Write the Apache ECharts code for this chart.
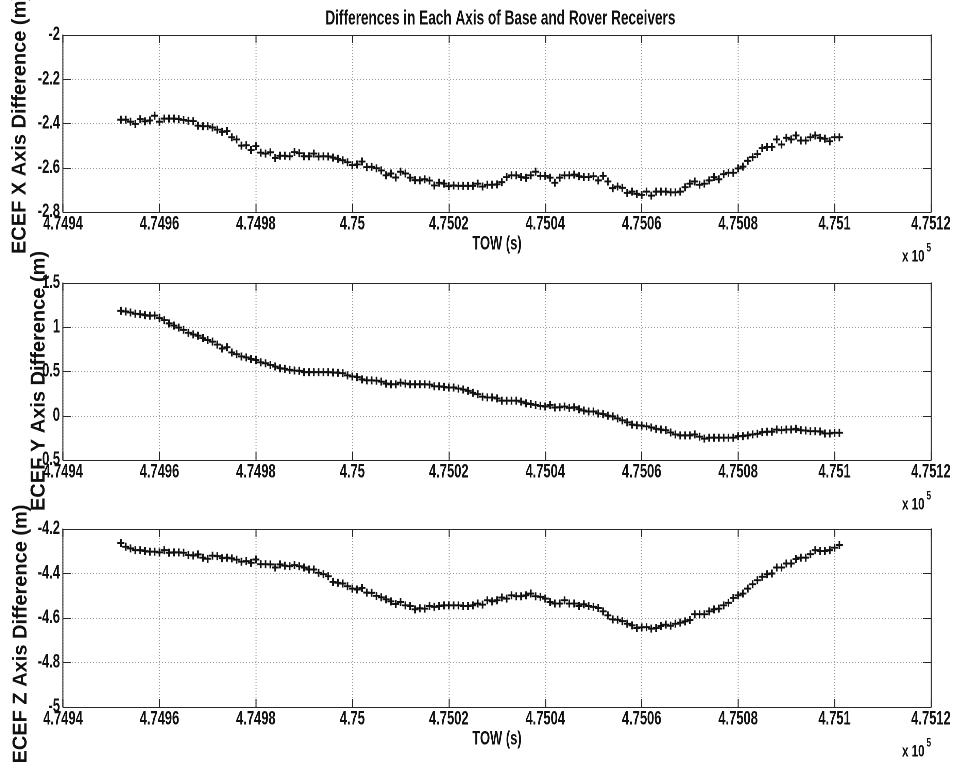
<!DOCTYPE html>
<html>
<head>
<meta charset="utf-8">
<script src="https://cdn.jsdelivr.net/npm/echarts@6/dist/echarts.min.js"></script>
<style>
  html, body { margin: 0; padding: 0; background: #ffffff; overflow: hidden; }
  #wrap { width: 957px; height: 762px; overflow: hidden; position: relative; }
  /* the figure uses a condensed typeface: the plot is laid out wide and narrowed horizontally */
  #chart { height: 762px; transform-origin: 0 0; position: absolute; left: 0; top: 0; }
</style>
</head>
<body>
<div id="wrap"><div id="chart"></div></div>
<script>
// GPS time of week (s), one sample per second
const towSeconds = [
  474952, 474953, 474954, 474955, 474956, 474957, 474958, 474959, 474960, 474961,
  474962, 474963, 474964, 474965, 474966, 474967, 474968, 474969, 474970, 474971,
  474972, 474973, 474974, 474975, 474976, 474977, 474978, 474979, 474980, 474981,
  474982, 474983, 474984, 474985, 474986, 474987, 474988, 474989, 474990, 474991,
  474992, 474993, 474994, 474995, 474996, 474997, 474998, 474999, 475000, 475001,
  475002, 475003, 475004, 475005, 475006, 475007, 475008, 475009, 475010, 475011,
  475012, 475013, 475014, 475015, 475016, 475017, 475018, 475019, 475020, 475021,
  475022, 475023, 475024, 475025, 475026, 475027, 475028, 475029, 475030, 475031,
  475032, 475033, 475034, 475035, 475036, 475037, 475038, 475039, 475040, 475041,
  475042, 475043, 475044, 475045, 475046, 475047, 475048, 475049, 475050, 475051,
  475052, 475053, 475054, 475055, 475056, 475057, 475058, 475059, 475060, 475061,
  475062, 475063, 475064, 475065, 475066, 475067, 475068, 475069, 475070, 475071,
  475072, 475073, 475074, 475075, 475076, 475077, 475078, 475079, 475080, 475081,
  475082, 475083, 475084, 475085, 475086, 475087, 475088, 475089, 475090, 475091,
  475092, 475093, 475094, 475095, 475096, 475097, 475098, 475099, 475100, 475101
];

// Base minus rover, ECEF X (m)
const ecefXDiff = [
  -2.383, -2.383, -2.392, -2.402, -2.380, -2.390, -2.386, -2.365, -2.392, -2.378,
  -2.378, -2.378, -2.380, -2.384, -2.388, -2.389, -2.410, -2.412, -2.412, -2.418,
  -2.428, -2.438, -2.434, -2.462, -2.472, -2.500, -2.498, -2.520, -2.502, -2.532,
  -2.536, -2.530, -2.556, -2.546, -2.546, -2.548, -2.529, -2.534, -2.548, -2.548,
  -2.536, -2.549, -2.548, -2.549, -2.554, -2.560, -2.566, -2.575, -2.588, -2.585,
  -2.572, -2.597, -2.596, -2.602, -2.612, -2.634, -2.626, -2.644, -2.618, -2.626,
  -2.645, -2.656, -2.657, -2.652, -2.658, -2.680, -2.668, -2.672, -2.683, -2.680,
  -2.682, -2.682, -2.682, -2.682, -2.672, -2.685, -2.677, -2.677, -2.675, -2.665,
  -2.642, -2.634, -2.634, -2.642, -2.646, -2.634, -2.618, -2.637, -2.637, -2.645,
  -2.668, -2.645, -2.634, -2.634, -2.631, -2.638, -2.642, -2.642, -2.638, -2.657,
  -2.637, -2.662, -2.692, -2.685, -2.691, -2.714, -2.708, -2.718, -2.723, -2.708,
  -2.726, -2.708, -2.708, -2.708, -2.711, -2.711, -2.708, -2.688, -2.672, -2.662,
  -2.677, -2.672, -2.657, -2.642, -2.652, -2.629, -2.623, -2.623, -2.603, -2.595,
  -2.569, -2.552, -2.538, -2.511, -2.506, -2.506, -2.472, -2.495, -2.465, -2.472,
  -2.454, -2.477, -2.477, -2.462, -2.454, -2.465, -2.469, -2.480, -2.462, -2.462
];

// Base minus rover, ECEF Y (m)
const ecefYDiff = [
  1.185, 1.178, 1.167, 1.152, 1.148, 1.137, 1.130, 1.133, 1.104, 1.081,
  1.044, 1.019, 0.996, 0.970, 0.937, 0.919, 0.904, 0.878, 0.856, 0.837,
  0.804, 0.760, 0.775, 0.715, 0.696, 0.670, 0.659, 0.641, 0.630, 0.604,
  0.593, 0.574, 0.556, 0.537, 0.530, 0.519, 0.511, 0.507, 0.493, 0.493,
  0.493, 0.493, 0.493, 0.493, 0.489, 0.485, 0.481, 0.456, 0.444, 0.437,
  0.411, 0.400, 0.400, 0.396, 0.385, 0.363, 0.356, 0.356, 0.374, 0.363,
  0.356, 0.356, 0.356, 0.356, 0.352, 0.333, 0.333, 0.326, 0.319, 0.319,
  0.307, 0.296, 0.281, 0.259, 0.244, 0.215, 0.207, 0.207, 0.196, 0.170,
  0.170, 0.170, 0.170, 0.159, 0.141, 0.133, 0.122, 0.111, 0.104, 0.122,
  0.093, 0.096, 0.104, 0.089, 0.096, 0.074, 0.059, 0.048, 0.048, 0.026,
  0.019, 0.000, -0.007, -0.030, -0.052, -0.074, -0.100, -0.107, -0.111, -0.119,
  -0.133, -0.148, -0.156, -0.163, -0.189, -0.211, -0.222, -0.222, -0.222, -0.211,
  -0.237, -0.259, -0.248, -0.248, -0.248, -0.248, -0.248, -0.248, -0.230, -0.230,
  -0.222, -0.211, -0.204, -0.185, -0.181, -0.181, -0.156, -0.163, -0.156, -0.156,
  -0.148, -0.163, -0.167, -0.174, -0.174, -0.178, -0.200, -0.200, -0.193, -0.193
];

// Base minus rover, ECEF Z (m)
const ecefZDiff = [
  -4.263, -4.280, -4.287, -4.295, -4.295, -4.299, -4.302, -4.302, -4.305, -4.295,
  -4.307, -4.305, -4.305, -4.307, -4.317, -4.319, -4.314, -4.329, -4.334, -4.320,
  -4.322, -4.331, -4.329, -4.332, -4.338, -4.347, -4.344, -4.352, -4.337, -4.358,
  -4.358, -4.359, -4.373, -4.359, -4.365, -4.367, -4.362, -4.367, -4.373, -4.382,
  -4.382, -4.397, -4.403, -4.412, -4.438, -4.442, -4.445, -4.457, -4.468, -4.472,
  -4.465, -4.486, -4.487, -4.501, -4.507, -4.516, -4.525, -4.537, -4.528, -4.543,
  -4.546, -4.561, -4.556, -4.558, -4.546, -4.550, -4.546, -4.543, -4.543, -4.543,
  -4.543, -4.546, -4.546, -4.543, -4.535, -4.540, -4.520, -4.525, -4.520, -4.508,
  -4.513, -4.498, -4.502, -4.502, -4.498, -4.490, -4.502, -4.505, -4.513, -4.528,
  -4.535, -4.535, -4.520, -4.535, -4.535, -4.546, -4.538, -4.546, -4.550, -4.555,
  -4.570, -4.588, -4.606, -4.608, -4.614, -4.626, -4.633, -4.645, -4.642, -4.641,
  -4.648, -4.645, -4.636, -4.630, -4.635, -4.626, -4.621, -4.615, -4.609, -4.583,
  -4.583, -4.583, -4.570, -4.561, -4.558, -4.543, -4.532, -4.510, -4.498, -4.490,
  -4.468, -4.448, -4.430, -4.415, -4.403, -4.400, -4.373, -4.373, -4.355, -4.355,
  -4.335, -4.329, -4.329, -4.313, -4.295, -4.299, -4.299, -4.295, -4.284, -4.272
];

// Axis ranges: [min, max, step]
const towRange = [474940, 475120, 20];
const yRangeX = [-2.8, -2.0, 0.2];
const yRangeY = [-0.5, 1.5, 0.5];
const yRangeZ = [-5.0, -4.2, 0.2];

const chartTitle = 'Differences in Each Axis of Base and Rover Receivers';
const yTitles = ['ECEF X Axis Difference (m)', 'ECEF Y Axis Difference (m)', 'ECEF Z Axis Difference (m)'];
const xTitle = 'TOW (s)';

// horizontal condensing factor of the figure
const SQUEEZE = 0.68;
const sx = v => v / SQUEEZE;   // screen x -> layout x

const FONT = "'Liberation Sans', Arial, sans-serif";
const INK = '#111111';
const FRAME = '#262626';
const GRIDC = '#9a9a9a';

// one subplot per ECEF component
const panels = [
  { values: ecefXDiff, range: yRangeX, label: yTitles[0], top: 35, height: 177, towName: true, labelX: 20, labelY: 124 },
  { values: ecefYDiff, range: yRangeY, label: yTitles[1], top: 283, height: 177, towName: false, labelX: 39, labelY: 381 },
  { values: ecefZDiff, range: yRangeZ, label: yTitles[2], top: 529, height: 178, towName: true, labelX: 21, labelY: 634 }
];

const PLOT_LEFT = 63;
const PLOT_WIDTH = 868;
const plusMarker = 'path://M3.8,0H6.2V3.8H10V6.2H6.2V10H3.8V6.2H0V3.8H3.8Z';

const grids = [], xAxes = [], yAxes = [], series = [], graphics = [];

panels.forEach((p, k) => {
  grids.push({ left: sx(PLOT_LEFT), width: sx(PLOT_WIDTH), top: p.top, height: p.height, containLabel: false });

  const xBase = {
    gridIndex: k, type: 'value',
    min: towRange[0], max: towRange[1], interval: towRange[2],
    axisLine: { show: true, onZero: false, lineStyle: { color: FRAME, width: 1 } },
    axisTick: { show: true, inside: true, length: 8, lineStyle: { color: FRAME, width: sx(1) } }
  };
  xAxes.push(Object.assign({}, xBase, {
    position: 'bottom',
    axisLabel: {
      margin: 3, color: INK, fontFamily: FONT, fontWeight: 'bold', fontSize: 19,
      formatter: v => String(+(v / 1e5).toFixed(4))
    },
    splitLine: { show: true, lineStyle: { type: [1, 2], color: GRIDC, width: sx(1) } },
    name: p.towName ? xTitle : '',
    nameLocation: 'middle', nameGap: 23,
    nameTextStyle: { color: INK, fontFamily: FONT, fontWeight: 'bold', fontSize: 19 }
  }));
  xAxes.push(Object.assign({}, xBase, {
    position: 'top',
    axisLabel: { show: false },
    splitLine: { show: false }
  }));

  const yBase = {
    gridIndex: k, type: 'value',
    min: p.range[0], max: p.range[1], interval: p.range[2],
    axisLine: { show: true, onZero: false, lineStyle: { color: FRAME, width: sx(1) } },
    axisTick: { show: true, inside: true, length: sx(8), lineStyle: { color: FRAME, width: 1 } }
  };
  yAxes.push(Object.assign({}, yBase, {
    position: 'left',
    axisLabel: { margin: sx(3), color: INK, fontFamily: FONT, fontWeight: 'bold', fontSize: 19 },
    splitLine: { show: true, lineStyle: { type: [sx(1), sx(2)], color: GRIDC, width: 1 } }
  }));
  yAxes.push(Object.assign({}, yBase, {
    position: 'right',
    axisLabel: { show: false },
    splitLine: { show: false }
  }));

  series.push({
    type: 'scatter',
    xAxisIndex: 2 * k,
    yAxisIndex: 2 * k,
    data: towSeconds.map((t, i) => [t, p.values[i]]),
    symbol: plusMarker,
    symbolSize: [sx(7), 8],
    itemStyle: { color: INK, opacity: 1 },
    silent: true
  });

  // rotated y-axis title (kept at full glyph width)
  graphics.push({
    type: 'text', x: sx(p.labelX), y: p.labelY, rotation: Math.PI / 2, scaleY: 1 / SQUEEZE,
    style: {
      text: p.label, fill: INK, fontFamily: FONT, fontSize: 20, fontWeight: 'bold',
      align: 'center', verticalAlign: 'middle'
    }
  });

  // exponent note for the TOW axis
  const axisBottom = p.top + p.height;
  graphics.push({
    type: 'text', x: sx(902), y: axisBottom + 45,
    style: { text: 'x 10', fill: INK, fontFamily: FONT, fontSize: 17, fontWeight: 'bold', align: 'left', verticalAlign: 'middle' }
  });
  graphics.push({
    type: 'text', x: sx(926.5), y: axisBottom + 36,
    style: { text: '5', fill: INK, fontFamily: FONT, fontSize: 12, fontWeight: 'bold', align: 'left', verticalAlign: 'middle' }
  });
});

const el = document.getElementById('chart');
el.style.width = sx(957) + 'px';
el.style.transform = 'scaleX(' + SQUEEZE + ')';

const chart = echarts.init(el, null, { renderer: 'canvas', devicePixelRatio: 2 });
chart.setOption({
  backgroundColor: '#ffffff',
  animation: false,
  title: {
    text: chartTitle, left: sx(497), top: 4, textAlign: 'center',
    textStyle: { color: INK, fontFamily: FONT, fontWeight: 'bold', fontSize: 20 }
  },
  grid: grids,
  xAxis: xAxes,
  yAxis: yAxes,
  series: series,
  graphic: graphics
});
</script>
</body>
</html>
